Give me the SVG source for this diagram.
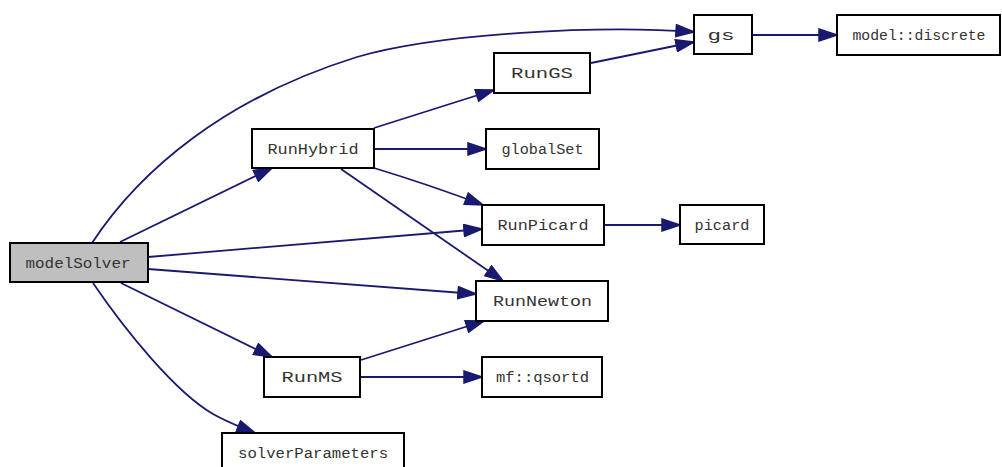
<svg xmlns="http://www.w3.org/2000/svg" width="1002" height="467" viewBox="0 0 1002 467">
  <style>
    .node rect { fill: #ffffff; stroke: #000000; stroke-width: 2; }
    .node.root rect { fill: #bfbfbf; }
    .node text { font-family: "Liberation Mono", "DejaVu Sans Mono", monospace; font-size: 14px; fill: #333333; text-anchor: middle; }
    .edge { fill: none; stroke: #191970; stroke-width: 1.8; marker-end: url(#arrow); }
  </style>
  <defs>
    <marker id="arrow" markerUnits="userSpaceOnUse" viewBox="0 0 20 14" markerWidth="20" markerHeight="14" refX="19" refY="7" orient="auto">
      <path d="M1,1 L19,7 L1,13 Z" fill="#191970" stroke="#191970" stroke-width="1.5" stroke-linejoin="miter"/>
    </marker>
  </defs>
  <rect width="1002" height="467" fill="#ffffff"/>

  <!-- call edges -->
  <g id="edges">
    <path class="edge" d="M92,243 C140,170 225,98 357,57 C440,33 600,25 694,32"/>
    <path class="edge" d="M120,242 L272,168"/>
    <path class="edge" d="M148,257 L482,229"/>
    <path class="edge" d="M148,269 L476,294"/>
    <path class="edge" d="M121,283 L272,357"/>
    <path class="edge" d="M93,283 C125,330 175,392 213,414 C225,421 240,427 255,433"/>
    <path class="edge" d="M374,128 L494,90"/>
    <path class="edge" d="M374,149 L486,149"/>
    <path class="edge" d="M374,168 Q430,185 483,205"/>
    <path class="edge" d="M341,169 L503,281"/>
    <path class="edge" d="M591,63 L694,42"/>
    <path class="edge" d="M752,35 L837,35"/>
    <path class="edge" d="M605,225 L680,225"/>
    <path class="edge" d="M361,360 L484,321"/>
    <path class="edge" d="M361,377 L482,377"/>
  </g>

  <!-- functions -->
  <g id="modelSolver" class="node root">
    <rect x="10" y="243" width="138" height="39"/>
    <text x="78" y="268" textLength="105" lengthAdjust="spacingAndGlyphs">modelSolver</text>
  </g>
  <g id="RunHybrid" class="node">
    <rect x="252" y="129" width="122" height="39"/>
    <text x="313" y="154" textLength="91" lengthAdjust="spacingAndGlyphs">RunHybrid</text>
  </g>
  <g id="RunGS" class="node">
    <rect x="494" y="53" width="96" height="40"/>
    <text x="542" y="78" textLength="62" lengthAdjust="spacingAndGlyphs">RunGS</text>
  </g>
  <g id="gs" class="node">
    <rect x="694" y="15" width="58" height="39"/>
    <text x="721" y="40" textLength="27" lengthAdjust="spacingAndGlyphs">gs</text>
  </g>
  <g id="model_discrete" class="node">
    <rect x="837" y="15" width="163" height="40"/>
    <text x="919" y="40" textLength="133" lengthAdjust="spacingAndGlyphs">model::discrete</text>
  </g>
  <g id="globalSet" class="node">
    <rect x="486" y="129" width="113" height="40"/>
    <text x="542.5" y="154" textLength="82" lengthAdjust="spacingAndGlyphs">globalSet</text>
  </g>
  <g id="RunPicard" class="node">
    <rect x="482" y="205" width="122" height="40"/>
    <text x="543" y="230" textLength="91" lengthAdjust="spacingAndGlyphs">RunPicard</text>
  </g>
  <g id="picard" class="node">
    <rect x="680" y="205" width="84" height="39"/>
    <text x="722" y="230" textLength="55" lengthAdjust="spacingAndGlyphs">picard</text>
  </g>
  <g id="RunNewton" class="node">
    <rect x="476" y="281" width="132" height="40"/>
    <text x="542.5" y="306" textLength="99" lengthAdjust="spacingAndGlyphs">RunNewton</text>
  </g>
  <g id="RunMS" class="node">
    <rect x="264" y="357" width="96" height="40"/>
    <text x="312" y="382" textLength="61" lengthAdjust="spacingAndGlyphs">RunMS</text>
  </g>
  <g id="mf_qsortd" class="node">
    <rect x="482" y="357" width="120" height="40"/>
    <text x="542.5" y="382" textLength="93" lengthAdjust="spacingAndGlyphs">mf::qsortd</text>
  </g>
  <g id="solverParameters" class="node">
    <rect x="222" y="433" width="182" height="40"/>
    <text x="313" y="458" textLength="150" lengthAdjust="spacingAndGlyphs">solverParameters</text>
  </g>
</svg>
